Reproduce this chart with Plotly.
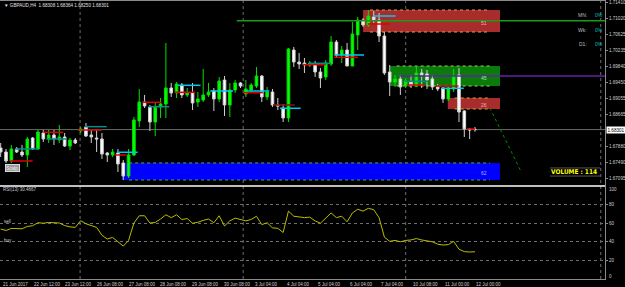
import plotly.graph_objects as go

symbol = "GBPAUD,H4"

opens = [1.67850, 1.67752, 1.67532, 1.67826, 1.67752, 1.67679, 1.68095, 1.67826, 1.68218, 1.68071,
         1.68169, 1.68046, 1.68120, 1.67899, 1.68046, 1.68267, 1.68365, 1.68169, 1.68095, 1.68071,
         1.67728, 1.67679, 1.67728, 1.67483, 1.67164, 1.67679, 1.68512, 1.68977, 1.68855, 1.68487,
         1.68855, 1.68928, 1.69320, 1.69198, 1.69394, 1.69149, 1.69198, 1.68977, 1.69026, 1.69149,
         1.69247, 1.69051, 1.69516, 1.68904, 1.69271, 1.69443, 1.69173, 1.69271, 1.69369, 1.69614,
         1.69100, 1.69222, 1.68904, 1.68830, 1.68585, 1.70251, 1.69957, 1.69933, 1.69884, 1.69908,
         1.69712, 1.69590, 1.69908, 1.70447, 1.70129, 1.70251, 1.69859, 1.70619, 1.70986, 1.70864,
         1.71060, 1.70986, 1.70594, 1.69712, 1.69467, 1.69541, 1.69369, 1.69467, 1.69369, 1.69688,
         1.69663, 1.69541, 1.69345, 1.69320, 1.69051, 1.69296, 1.69639, 1.68757, 1.68316, 1.68308]
highs = [1.67973, 1.67826, 1.67924, 1.67875, 1.67924, 1.68120, 1.68120, 1.68291, 1.68291, 1.68291,
         1.68291, 1.68414, 1.68218, 1.68095, 1.68095, 1.68365, 1.68463, 1.68291, 1.68291, 1.68218,
         1.67752, 1.67826, 1.67826, 1.67556, 1.67826, 1.68610, 1.69296, 1.69149, 1.68904, 1.68977,
         1.69075, 1.70423, 1.69443, 1.69467, 1.69443, 1.69320, 1.69443, 1.69222, 1.69786, 1.69443,
         1.69320, 1.69590, 1.69614, 1.69443, 1.69516, 1.69467, 1.69516, 1.69443, 1.69835, 1.69639,
         1.69345, 1.69296, 1.69075, 1.68928, 1.70300, 1.70325, 1.70178, 1.70055, 1.69982, 1.69982,
         1.69810, 1.70006, 1.70594, 1.70496, 1.70349, 1.70423, 1.70937, 1.71060, 1.71035, 1.71231,
         1.71207, 1.71158, 1.70692, 1.69884, 1.69639, 1.69639, 1.69565, 1.69639, 1.69835, 1.69786,
         1.69761, 1.69639, 1.69418, 1.69345, 1.69369, 1.69786, 1.69810, 1.68781, 1.68340, 1.68364]
lows = [1.67630, 1.67483, 1.67483, 1.67728, 1.67630, 1.67385, 1.67801, 1.67801, 1.67997, 1.67973,
        1.67924, 1.67973, 1.67875, 1.67801, 1.67948, 1.68218, 1.68120, 1.67973, 1.67752, 1.67581,
        1.67507, 1.67630, 1.67262, 1.67066, 1.67115, 1.67654, 1.68365, 1.68830, 1.68267, 1.68144,
        1.68585, 1.68585, 1.69100, 1.69075, 1.69075, 1.69100, 1.68781, 1.68855, 1.68977, 1.69100,
        1.68757, 1.68977, 1.68634, 1.68610, 1.69198, 1.69320, 1.69100, 1.69198, 1.69320, 1.68977,
        1.69026, 1.68855, 1.68781, 1.68487, 1.68487, 1.69835, 1.69786, 1.69688, 1.69835, 1.69590,
        1.69320, 1.69516, 1.69859, 1.70055, 1.69933, 1.69859, 1.69859, 1.70251, 1.70815, 1.70815,
        1.70913, 1.70447, 1.69639, 1.69124, 1.69345, 1.69149, 1.69320, 1.69320, 1.69345, 1.69320,
        1.69296, 1.69271, 1.69247, 1.68953, 1.69002, 1.69222, 1.68487, 1.68120, 1.68071, 1.68250]
closes = [1.67752, 1.67532, 1.67826, 1.67752, 1.67679, 1.68071, 1.67826, 1.68242, 1.68071, 1.68169,
          1.68071, 1.68120, 1.67899, 1.68046, 1.67973, 1.68316, 1.68144, 1.68120, 1.68071, 1.67703,
          1.67679, 1.67752, 1.67458, 1.67164, 1.67679, 1.68536, 1.68977, 1.68879, 1.68487, 1.68855,
          1.68928, 1.69320, 1.69198, 1.69418, 1.69149, 1.69198, 1.68953, 1.69051, 1.69149, 1.69222,
          1.69051, 1.69492, 1.68904, 1.69271, 1.69443, 1.69369, 1.69296, 1.69394, 1.69614, 1.69100,
          1.69222, 1.68904, 1.68879, 1.68585, 1.70276, 1.69957, 1.69908, 1.69884, 1.69933, 1.69712,
          1.69565, 1.69933, 1.70447, 1.70129, 1.70251, 1.69859, 1.70643, 1.70986, 1.70864, 1.71084,
          1.70986, 1.70594, 1.69688, 1.69467, 1.69541, 1.69345, 1.69492, 1.69394, 1.69688, 1.69639,
          1.69516, 1.69345, 1.69296, 1.69051, 1.69320, 1.69614, 1.68732, 1.68316, 1.68291, 1.68301]

rsi = [53.7, 52.2, 54.4, 54.2, 54.0, 56.5, 57.3, 60.5, 60.0, 60.8,
       60.8, 60.2, 57.5, 56.0, 55.5, 62.7, 59.4, 57.5, 55.5, 47.0,
       43.0, 44.7, 40.0, 35.4, 41.5, 60.2, 68.0, 68.0, 60.2, 60.8,
       64.5, 69.0, 66.0, 69.0, 64.0, 65.0, 60.0, 61.0, 63.0, 64.5,
       60.5, 68.0, 57.0, 62.5, 65.5, 64.0, 62.5, 64.0, 67.5, 58.5,
       60.5, 55.0, 54.5, 50.0, 73.0, 67.5, 66.5, 66.0, 66.5, 62.5,
       60.0, 65.0, 71.0, 66.0, 67.5, 61.5, 71.0, 75.0, 73.0, 76.0,
       74.5, 66.0, 45.0, 40.5, 41.5, 40.0, 41.5, 42.0, 43.5, 42.0,
       41.0, 40.0, 37.5, 36.5, 37.0, 40.5, 32.0, 29.5, 29.0, 29.3]
rsi_label = "RSI(13) 30.4667"

time_labels = ["21 Jun 2017", "22 Jun 12:00", "23 Jun 12:00", "26 Jun 08:00", "27 Jun 08:00",
               "28 Jun 08:00", "29 Jun 08:00", "30 Jun 08:00", "3 Jul 04:00", "4 Jul 04:00",
               "5 Jul 04:00", "6 Jul 04:00", "7 Jul 04:00", "10 Jul 08:00", "11 Jul 00:00", "12 Jul 00:00"]
time_pos = [0.0, 5.9, 11.7, 17.7, 23.7, 29.5, 35.5, 41.5, 47.3, 53.3, 59.2, 65.2, 71.0, 77.0, 83.0, 88.8]

price_ticks = [1.71410, 1.71020, 1.70625, 1.70235, 1.69840, 1.69450, 1.69055, 1.68665,
               1.67880, 1.67490, 1.67095]
current_price = 1.68301

# supply / demand zones
zone_x0 = [68.0, 73.0, 83.9, 22.8]
zone_x1 = [93.7, 93.7, 93.7, 93.7]
zone_lo = [1.70692, 1.69369, 1.68806, 1.67066]
zone_hi = [1.71231, 1.69859, 1.69075, 1.67483]
zone_fill = ["#a82c2c", "#0a7a0a", "#a82c2c", "#0000ff"]
zone_dot = ["#e0a040", "#9ad060", "#e0a040", "#40b040"]
zone_text = ["51", "45", "26", "62"]
zone_text_col = ["#f0b0b0", "#b0e0b0", "#f0b0b0", "#b0b0ff"]

# pivot style short segments
seg_x0 = [1.75, 2.7, 8.0, 8.6, 14.5, 15.8, 21.4, 21.8, 26.6, 27.7, 32.7, 33.3, 39.3, 45.5,
          46.2, 51.1, 52.4, 56.7, 57.8, 62.6, 62.5, 69.9, 68.9, 75.9, 76.2, 81.8, 82.7, 87.5]
seg_x1 = [6.0, 7.1, 11.75, 12.4, 19.0, 19.9, 23.6, 25.7, 30.2, 31.6, 36.5, 37.5, 43.6, 49.2,
          50.4, 55.2, 56.3, 61.0, 62.0, 68.2, 67.0, 74.1, 73.0, 80.2, 79.6, 85.9, 86.9, 89.0]
seg_price = [1.67532, 1.67826, 1.68234, 1.68071, 1.68291, 1.68372, 1.67679, 1.67745, 1.68970,
             1.68862, 1.69215, 1.69386, 1.69247, 1.69205, 1.69247, 1.68904, 1.68823, 1.69891,
             1.69925, 1.70129, 1.70072, 1.71084, 1.70888, 1.69484, 1.69394, 1.69369, 1.69313,
             1.68316]
seg_kind = ["red", "teal", "red", "teal", "red", "teal", "red", "cyan", "red", "teal", "red",
            "cyan", "cyan", "red", "cyan", "dkred", "cyan", "red", "teal", "cyan", "red", "cyan",
            "red", "teal", "red", "red", "cyan", "red"]
seg_colors = {"red": "#e00000", "dkred": "#8b1010", "cyan": "#00c8f0", "teal": "#0a8a8a"}

# horizontal levels
level_green = (44.3, 1.70966)
level_purple = (74.9, 1.69614)
# trend projection
proj_x = [91.8, 97.75]
proj_y = [1.68830, 1.67244]
# week separators
sep_pos = [14.9, 45.5, 76.0, 112.6]

tf_names = ["MN:", "Wk:", "D1:"]
tf_vals = ["0%", "0%", "0%"]
volume_text = "VOLUME : 114"

XR = [-0.13, 113.4]
YR = [1.66919, 1.71476]
SMALL = "Liberation Sans"

fig = go.Figure()
idx = list(range(len(opens)))

shapes = []
for x0, x1, lo, hi, fc, dc in zip(zone_x0, zone_x1, zone_lo, zone_hi, zone_fill, zone_dot):
    shapes.append(dict(type="rect", xref="x", yref="y", x0=x0, x1=x1, y0=lo, y1=hi,
                       fillcolor=fc, line=dict(width=0), layer="below"))
    for yy in (lo, hi):
        shapes.append(dict(type="line", xref="x", yref="y", x0=x0 + 1.3, x1=x1 - 1.9, y0=yy, y1=yy,
                           line=dict(color=dc, width=1, dash="dot"), layer="below"))

for s in sep_pos:
    shapes.append(dict(type="line", xref="x", yref="paper", x0=s, x1=s, y0=0, y1=1,
                       line=dict(color="#6e6e6e", width=1, dash="dot"), layer="below"))

shapes.append(dict(type="line", xref="x", yref="y", x0=XR[0], x1=XR[1], y0=current_price, y1=current_price,
                   line=dict(color="#6a6a6a", width=1), layer="below"))
shapes.append(dict(type="line", xref="x", yref="y", x0=level_green[0], x1=XR[1], y0=level_green[1],
                   y1=level_green[1], line=dict(color="#1a9a1a", width=1.5)))
shapes.append(dict(type="line", xref="x", yref="y", x0=level_purple[0], x1=XR[1], y0=level_purple[1],
                   y1=level_purple[1], line=dict(color="#6420a8", width=1.5)))
# panel borders
shapes.append(dict(type="line", xref="paper", yref="paper", x0=0, x1=1, y0=1 / 3, y1=1 / 3,
                   line=dict(color="#ffffff", width=1.5)))
shapes.append(dict(type="line", xref="paper", yref="paper", x0=0, x1=1, y0=1, y1=1,
                   line=dict(color="#8a8a8a", width=2)))
# volume box lines
for yy in (0.398, 0.369):
    shapes.append(dict(type="line", xref="paper", yref="paper", x0=0.909, x1=0.992, y0=yy, y1=yy,
                       line=dict(color="#555555", width=1)))

fig.add_trace(go.Candlestick(
    x=idx, open=opens, high=highs, low=lows, close=closes, xaxis="x", yaxis="y",
    increasing=dict(line=dict(color="#00e000", width=1), fillcolor="#00ff00"),
    decreasing=dict(line=dict(color="#d0d0d0", width=1), fillcolor="#ffffff"),
    whiskerwidth=0, showlegend=False, hoverinfo="skip"))

for kind, col in seg_colors.items():
    xs, ys = [], []
    for a, b, p, k in zip(seg_x0, seg_x1, seg_price, seg_kind):
        if k == kind:
            xs += [a, b, None]
            ys += [p, p, None]
    if xs:
        fig.add_trace(go.Scatter(x=xs, y=ys, mode="lines", xaxis="x", yaxis="y",
                                 line=dict(color=col, width=1.5), showlegend=False, hoverinfo="skip"))

fig.add_trace(go.Scatter(x=proj_x, y=proj_y, mode="lines", xaxis="x", yaxis="y",
                         line=dict(color="#008a00", width=1, dash="dot"), showlegend=False, hoverinfo="skip"))

fig.add_trace(go.Scatter(x=idx, y=rsi, mode="lines", xaxis="x", yaxis="y2",
                         line=dict(color="#bcbc00", width=1), showlegend=False, hoverinfo="skip"))

ann = []
header = "▼ %s  %.5f %.5f %.5f %.5f" % (symbol, opens[-1], highs[-1], lows[-1], closes[-1])
ann.append(dict(text=header, xref="paper", yref="paper", x=0.004, y=0.982, xanchor="left", yanchor="middle",
                showarrow=False, font=dict(size=4.6, color="#e0e0e0", family=SMALL)))
for name, val, yy in zip(tf_names, tf_vals, [0.946, 0.894, 0.842]):
    ann.append(dict(text=name, xref="paper", yref="paper", x=0.9735, y=yy, xanchor="right", yanchor="middle",
                    showarrow=False, font=dict(size=5, color="#bdbdbd", family=SMALL)))
    ann.append(dict(text=val, xref="paper", yref="paper", x=0.980, y=yy, xanchor="left", yanchor="middle",
                    showarrow=False, font=dict(size=5, color="#00c0c0", family=SMALL)))
ann.append(dict(text="<b>%s</b>" % volume_text, xref="paper", yref="paper", x=0.949, y=0.383,
                xanchor="center", yanchor="middle", showarrow=False,
                font=dict(size=6.5, color="#ffff00", family="DejaVu Sans Condensed, DejaVu Sans")))
for x1, lo, hi, t, c in zip(zone_x1, zone_lo, zone_hi, zone_text, zone_text_col):
    ann.append(dict(text=t, xref="x", yref="y", x=x1 - 3, y=(lo + hi) / 2, yshift=-2, showarrow=False,
                    xanchor="center", yanchor="middle", font=dict(size=5, color=c, family=SMALL)))
ann.append(dict(text="%.5f" % current_price, xref="paper", yref="y", x=1, xshift=1, y=current_price,
                xanchor="left", yanchor="middle", showarrow=False, bgcolor="#ffffff", borderpad=0.5,
                font=dict(size=4.6, color="#000000", family=SMALL)))
ann.append(dict(text="Scalp", xref="paper", yref="paper", x=0.0205, y=0.3996, xanchor="center",
                yanchor="middle", showarrow=False, bgcolor="#9a9a9a", bordercolor="#dadada", borderwidth=1,
                borderpad=0.5, font=dict(size=4.5, color="#eeeeee", family=SMALL)))
ann.append(dict(text=rsi_label, xref="paper", yref="paper", x=0.002, y=0.319, xanchor="left",
                yanchor="middle", showarrow=False, font=dict(size=4.5, color="#cfcfcf", family=SMALL)))
ann.append(dict(text="sell", xref="paper", yref="y2", x=0.003, y=62, xanchor="left", yanchor="middle",
                showarrow=False, font=dict(size=4.5, color="#cfcfcf", family=SMALL)))
ann.append(dict(text="buy", xref="paper", yref="y2", x=0.003, y=41.5, xanchor="left", yanchor="middle",
                showarrow=False, font=dict(size=4.5, color="#cfcfcf", family=SMALL)))
ann.append(dict(text="100", xref="paper", yref="y2", x=1, xshift=2, y=100, yshift=-3, xanchor="left",
                yanchor="middle", showarrow=False, font=dict(size=4.5, color="#cfcfcf", family=SMALL)))
ann.append(dict(text="0", xref="paper", yref="y2", x=1, xshift=2, y=0, yshift=3, xanchor="left",
                yanchor="middle", showarrow=False, font=dict(size=4.5, color="#cfcfcf", family=SMALL)))
for t, p in zip(time_labels, time_pos):
    ann.append(dict(text=t, xref="x", yref="paper", x=p, y=0, yshift=-1, xanchor="left", yanchor="top",
                    showarrow=False, font=dict(size=4.5, color="#cfcfcf", family=SMALL)))

fig.update_layout(
    width=625, height=287, margin=dict(l=0, r=20, t=0, b=8),
    paper_bgcolor="#000000", plot_bgcolor="#000000", showlegend=False,
    xaxis=dict(domain=[0, 1], anchor="y2", range=XR, showgrid=False, zeroline=False,
               showticklabels=False, ticks="", rangeslider=dict(visible=False),
               showline=True, linecolor="#8a8a8a", linewidth=1),
    yaxis=dict(domain=[1 / 3, 1], range=YR, side="right", anchor="x", tickvals=price_ticks,
               ticktext=["%.5f" % v for v in price_ticks], showgrid=False, zeroline=False,
               showline=True, linecolor="#8a8a8a", linewidth=1, ticks="outside", ticklen=2,
               tickcolor="#8a8a8a", tickfont=dict(size=4.6, color="#cfcfcf", family=SMALL)),
    yaxis2=dict(domain=[0, 1 / 3], range=[0, 100], side="right", anchor="x", tickvals=[80, 60, 40, 20],
                ticktext=["80", "60", "40", "20"], showgrid=True, gridcolor="#6e6e6e", griddash="dot",
                gridwidth=1, zeroline=False, showline=True, linecolor="#8a8a8a", linewidth=1,
                ticks="outside", ticklen=2, tickcolor="#8a8a8a",
                tickfont=dict(size=4.5, color="#cfcfcf", family=SMALL)),
    shapes=shapes, annotations=ann,
)

fig.write_html("out.html")
